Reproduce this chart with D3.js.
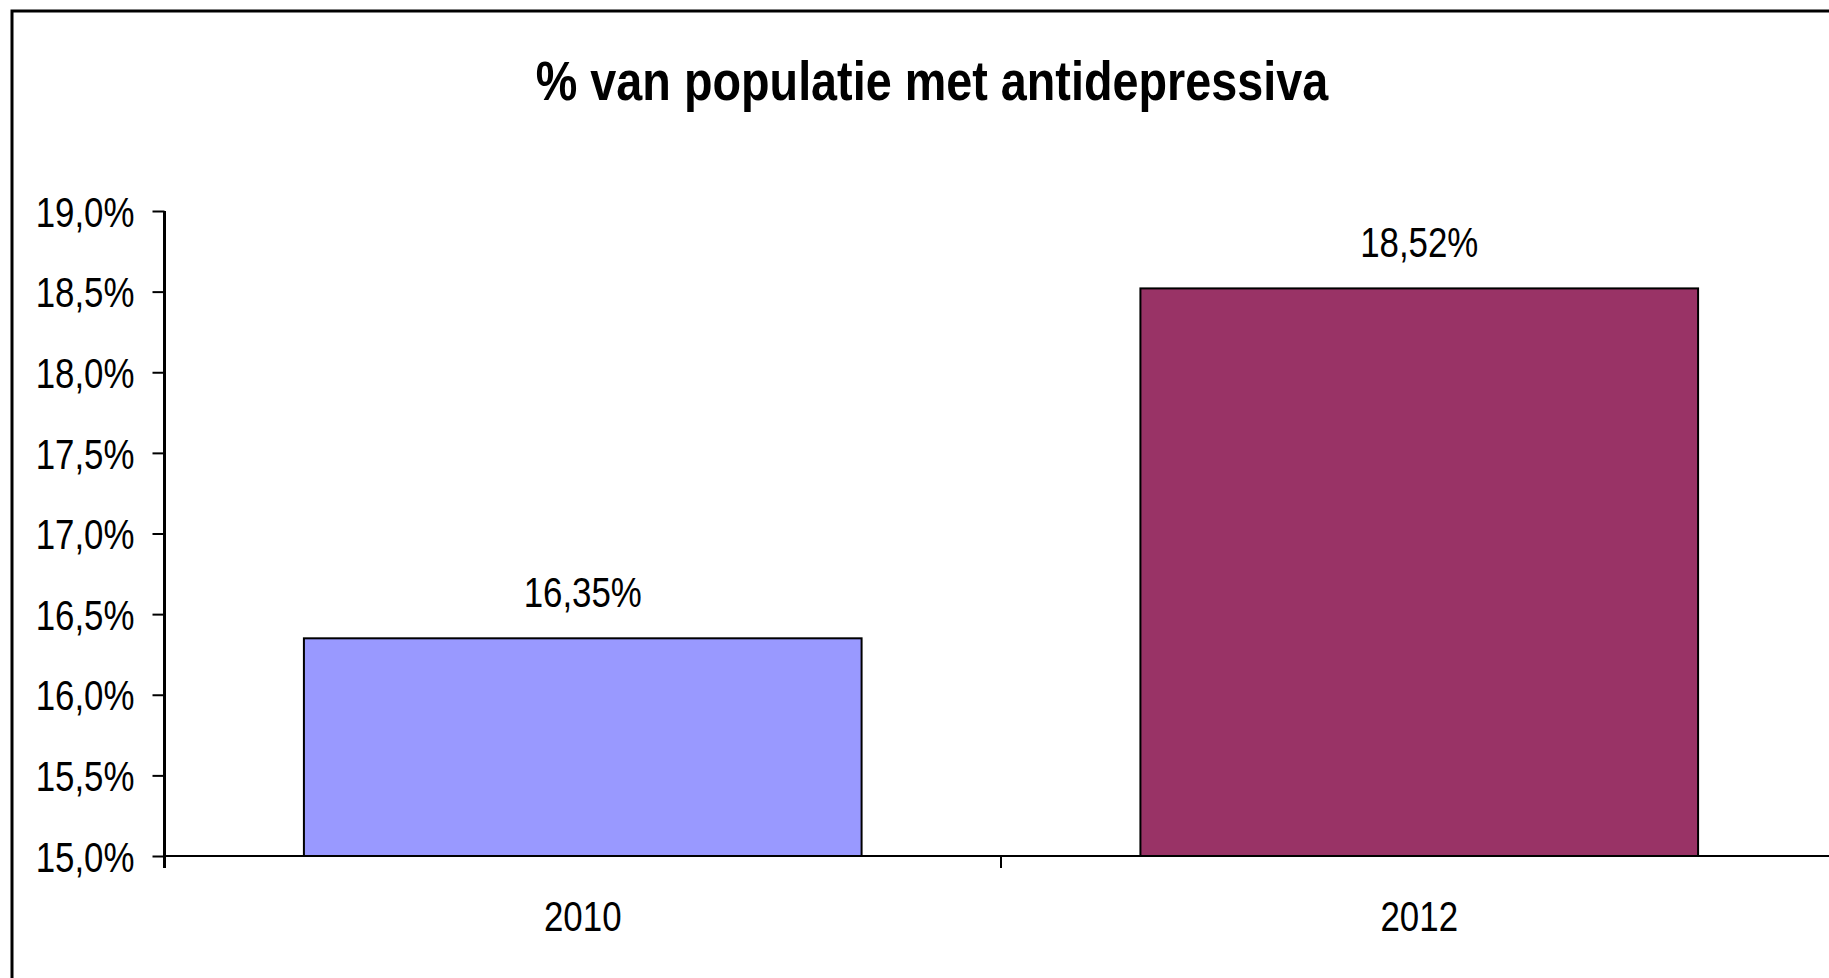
<!DOCTYPE html>
<html>
<head>
<meta charset="utf-8">
<title>% van populatie met antidepressiva</title>
<script src="https://cdn.jsdelivr.net/npm/d3@7"></script>
<style>
  body { margin: 0; background: #fff; }
  text { font-family: "Liberation Sans", Arial, sans-serif; fill: #000; }
</style>
</head>
<body>
<div id="chart"></div>
<script>
// data
var years = ["2010", "2012"];
var shares = [16.35, 18.52];
var barColors = ["#9999ff", "#993366"];
var yTicks = [15, 15.5, 16, 16.5, 17, 17.5, 18, 18.5, 19];
var title = "% van populatie met antidepressiva";

var W = 1829, H = 978;
var plot = {left: 164.5, right: 1837.5, top: 211, bottom: 856};
var squeezeK = 0.83; // the original text is horizontally narrowed

var svg = d3.select("#chart").append("svg")
    .attr("width", W)
    .attr("height", H);

// chart frame (runs off the right and bottom of the picture)
svg.append("rect")
    .attr("x", 12).attr("y", 11)
    .attr("width", 1900).attr("height", 1000)
    .attr("fill", "none")
    .attr("stroke", "#000")
    .attr("stroke-width", 3);

function squeeze(sel, k) {
  sel.each(function() {
    var w = this.getComputedTextLength();
    d3.select(this)
      .attr("textLength", w * k)
      .attr("lengthAdjust", "spacingAndGlyphs");
  });
}

var fmt = function(v, digits) {
  return v.toFixed(digits).replace(".", ",") + "%";
};

// scales
var y = d3.scaleLinear().domain([15, 19]).range([plot.bottom, plot.top]);
var xCat = d3.scaleBand().domain(years).range([plot.left, plot.right]);
var xBar = d3.scaleBand().domain(years).range([plot.left, plot.right])
    .paddingInner(1 / 3).paddingOuter(1 / 6);

// title
svg.append("text")
    .attr("x", 932).attr("y", 100)
    .attr("text-anchor", "middle")
    .style("font-size", "55px")
    .style("font-weight", "bold")
    .text(title)
    .call(squeeze, 0.85);

// bars
svg.selectAll("rect.bar")
  .data(years)
  .enter()
  .append("rect")
    .attr("class", "bar")
    .attr("x", function(d) { return xBar(d); })
    .attr("width", xBar.bandwidth())
    .attr("y", function(d, i) { return y(shares[i]); })
    .attr("height", function(d, i) { return y(15) - y(shares[i]); })
    .attr("fill", function(d, i) { return barColors[i]; })
    .attr("stroke", "#000")
    .attr("stroke-width", 2);

// value labels
svg.selectAll("text.val")
  .data(years)
  .enter()
  .append("text")
    .attr("class", "val")
    .attr("x", function(d) { return xBar(d) + xBar.bandwidth() / 2; })
    .attr("y", function(d, i) { return y(shares[i]) - 31; })
    .attr("text-anchor", "middle")
    .style("font-size", "42px")
    .text(function(d, i) { return fmt(shares[i], 2); })
    .call(squeeze, squeezeK);

// y axis
var yAxis = svg.append("g")
    .attr("transform", "translate(" + plot.left + ",0)")
    .call(d3.axisLeft(y)
      .tickValues(yTicks)
      .tickSize(12)
      .tickPadding(18)
      .tickFormat(function(d) { return fmt(d, 1); }));
yAxis.select(".domain").remove();
yAxis.selectAll(".tick line").attr("stroke", "#000").attr("stroke-width", 2);
yAxis.selectAll(".tick text")
    .attr("dy", "0.36em")
    .style("font-size", "42px")
    .style("font-family", null)
    .attr("fill", "#000")
    .call(squeeze, squeezeK);
yAxis.append("line")
    .attr("x1", 0).attr("x2", 0)
    .attr("y1", y.range()[1]).attr("y2", y.range()[0] + 12)
    .attr("stroke", "#000")
    .attr("stroke-width", 3);

// x axis: labels at category centres, ticks at category boundaries
var xAxis = svg.append("g")
    .attr("transform", "translate(0," + plot.bottom + ")")
    .call(d3.axisBottom(xCat).tickSize(0).tickPadding(45));
xAxis.select(".domain").remove();
xAxis.selectAll(".tick text")
    .style("font-size", "42px")
    .style("font-family", null)
    .attr("fill", "#000")
    .call(squeeze, squeezeK);
xAxis.append("line")
    .attr("x1", xCat.range()[0]).attr("x2", xCat.range()[1])
    .attr("y1", 0).attr("y2", 0)
    .attr("stroke", "#000")
    .attr("stroke-width", 2);
var bounds = years.map(function(d) { return xCat(d); }).concat([xCat.range()[1]]);
xAxis.selectAll("line.bound")
  .data(bounds.slice(1))
  .enter()
  .append("line")
    .attr("class", "bound")
    .attr("x1", function(d) { return d; })
    .attr("x2", function(d) { return d; })
    .attr("y1", 0).attr("y2", 12)
    .attr("stroke", "#000")
    .attr("stroke-width", 2);
</script>
</body>
</html>
